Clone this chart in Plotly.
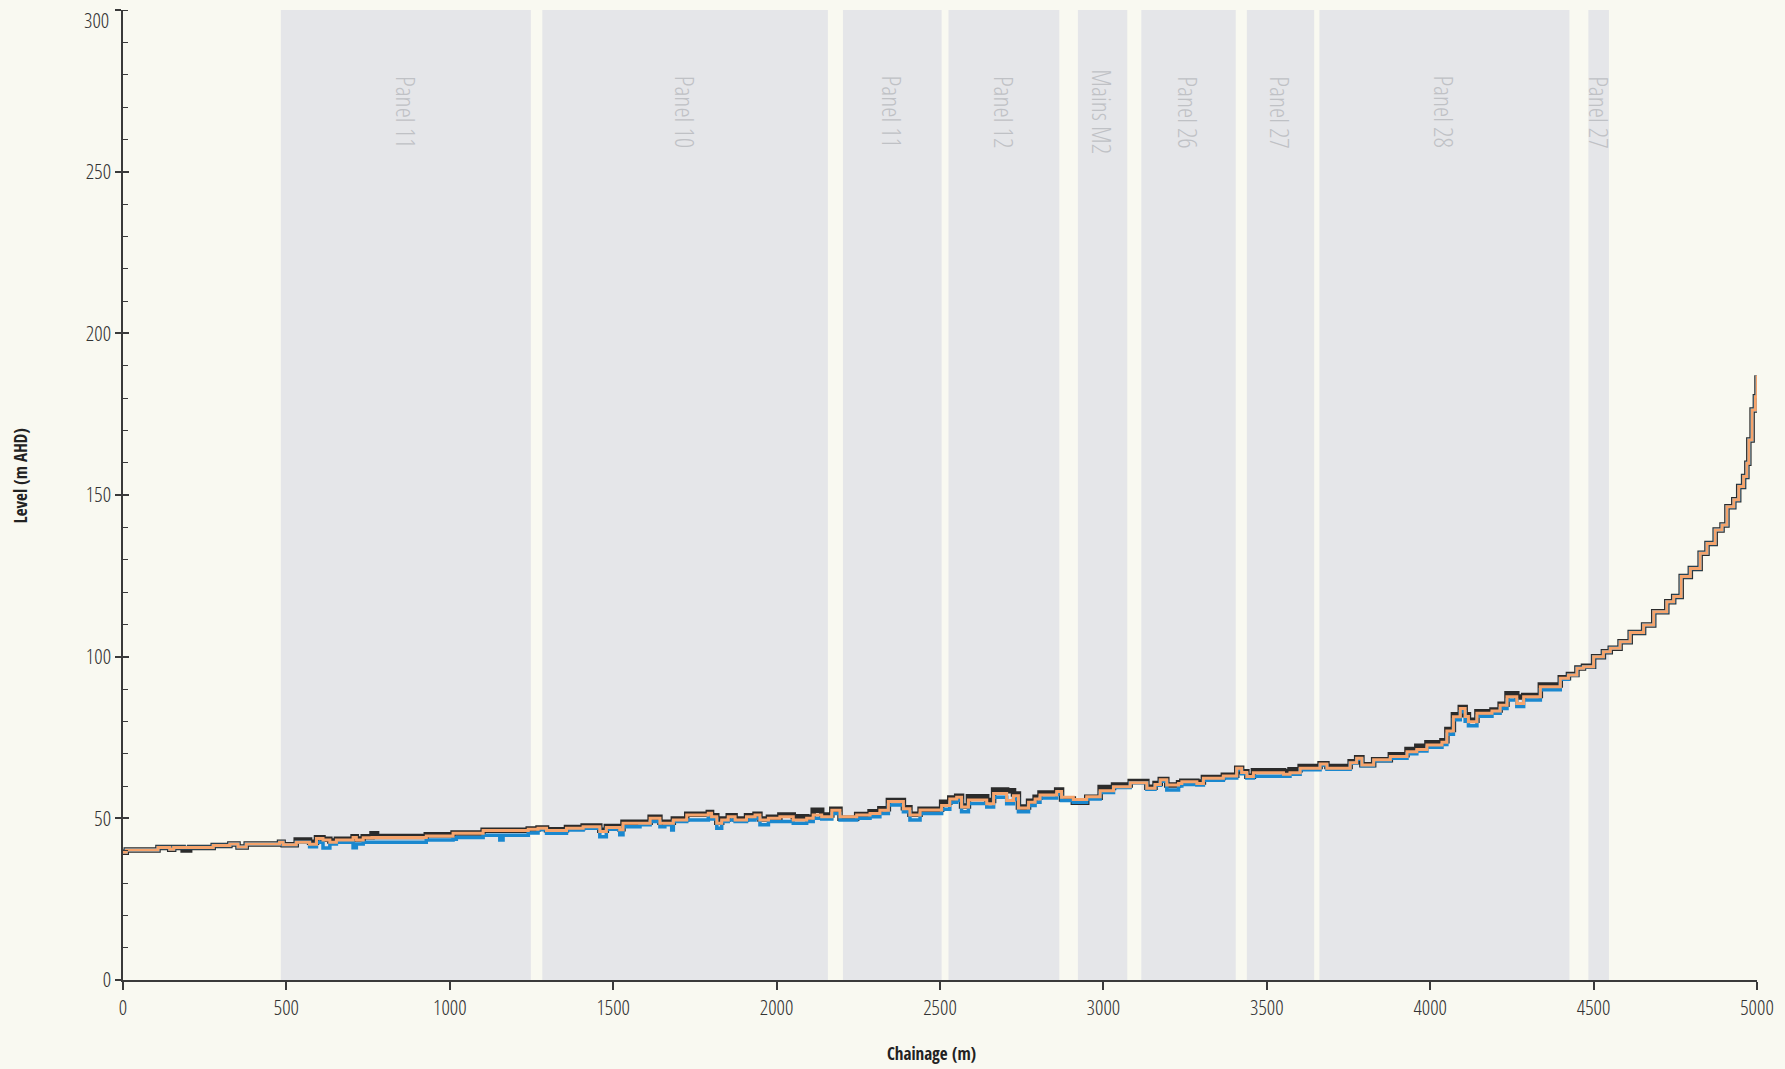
import plotly.graph_objects as go

# ---- panel zones (chainage, m) ----
panel_names = ["Panel 11", "Panel 10", "Panel 11", "Panel 12", "Mains M2",
               "Panel 26", "Panel 27", "Panel 28", "Panel 27"]
panel_start = [483, 1283, 2203, 2526, 2922, 3116, 3439, 3661, 4484]
panel_end = [1248, 2157, 2505, 2865, 3073, 3405, 3645, 4426, 4547]

# ---- axis ticks ----
x_ticks = [0, 500, 1000, 1500, 2000, 2500, 3000, 3500, 4000, 4500, 5000]
y_ticks = [0, 50, 100, 150, 200, 250, 300]

# ---- profile data ----
chainage = [0, 10, 107, 143, 155, 184, 204, 276, 327, 352, 377, 479, 490, 530, 571, 592,
            612, 633, 653, 704, 714, 735, 762, 776, 928, 1010, 1020, 1102, 1153, 1163,
            1240, 1270, 1296, 1357, 1408, 1459, 1479, 1520, 1530, 1582, 1613, 1643, 1658,
            1679, 1684, 1725, 1791, 1801, 1817, 1832, 1852, 1873, 1908, 1934, 1949, 1975,
            2010, 2051, 2092, 2112, 2138, 2169, 2194, 2245, 2286, 2316, 2342, 2388, 2408,
            2439, 2505, 2530, 2551, 2566, 2587, 2643, 2664, 2704, 2725, 2740, 2771, 2791,
            2806, 2857, 2872, 2908, 2949, 2990, 3031, 3082, 3133, 3158, 3174, 3194, 3230,
            3240, 3286, 3306, 3367, 3408, 3423, 3439, 3459, 3551, 3571, 3602, 3663, 3684,
            3755, 3775, 3791, 3827, 3878, 3929, 3959, 3990, 4036, 4051, 4071, 4092, 4107,
            4117, 4143, 4189, 4214, 4235, 4265, 4286, 4337, 4398, 4423, 4449, 4469, 4500,
            4530, 4551, 4581, 4612, 4653, 4684, 4724, 4745, 4768, 4796, 4826, 4847, 4872,
            4893, 4908, 4929, 4944, 4959, 4969, 4975, 4985, 4995, 5000]

surface = [39.5, 40.2, 41.0, 40.4, 41.0, 40.2, 41.0, 41.6, 42.1, 41.1, 42.1, 42.6, 41.8, 43.3,
           42.6, 44.0, 43.5, 43.0, 43.5, 44.3, 43.6, 44.3, 45.2, 44.4, 44.9, 45.5, 45.5, 46.3,
           46.3, 46.3, 46.7, 47.0, 46.5, 47.2, 47.6, 46.3, 47.5, 46.8, 48.8, 48.8, 50.3, 48.8,
           48.8, 48.8, 49.8, 51.3, 51.8, 50.8, 48.8, 49.8, 50.8, 49.8, 50.8, 51.3, 49.8, 50.3,
           51.0, 50.5, 50.3, 52.5, 51.0, 52.8, 50.0, 51.2, 52.0, 53.0, 55.5, 53.3, 51.3, 52.8,
           55.0, 56.3, 56.8, 53.8, 56.7, 55.5, 58.8, 58.5, 57.5, 53.5, 55.3, 56.5, 57.8, 58.8,
           56.0, 55.0, 56.5, 59.5, 60.3, 61.4, 59.6, 60.8, 62.0, 60.3, 61.0, 61.5, 61.2, 62.6,
           63.3, 65.5, 64.4, 63.0, 64.7, 64.5, 65.0, 66.0, 66.9, 66.0, 67.5, 68.7, 66.6, 68.1,
           69.7, 71.3, 72.3, 73.4, 74.0, 77.5, 82.0, 84.3, 82.0, 80.3, 83.0, 83.5, 85.3, 88.5,
           87.5, 88.0, 91.2, 93.5, 94.5, 96.5, 97.0, 100.0, 101.5, 102.6, 104.6, 107.5, 109.8,
           113.9, 117.0, 118.6, 124.8, 127.3, 132.0, 135.0, 139.2, 140.7, 146.4, 148.5, 152.6,
           155.7, 159.8, 167.0, 176.3, 180.4, 187.0]

predicted = [39.5, 40.2, 41.0, 40.4, 41.0, 41.0, 41.0, 41.6, 42.1, 41.1, 42.1, 42.6, 41.8, 42.6,
             42.0, 43.8, 43.3, 42.6, 43.3, 44.1, 43.3, 44.0, 44.1, 44.1, 44.5, 45.4, 45.4, 46.2,
             46.2, 46.2, 46.6, 46.9, 46.2, 46.9, 47.4, 45.9, 47.2, 46.5, 48.5, 48.5, 50.0, 48.5,
             48.5, 48.5, 49.5, 51.0, 51.6, 50.5, 48.5, 49.5, 50.5, 49.5, 50.5, 51.0, 49.5, 50.0,
             50.5, 49.5, 50.0, 51.0, 50.5, 52.5, 50.5, 51.0, 51.5, 52.5, 55.2, 53.0, 51.0, 52.6,
             54.0, 56.0, 56.5, 53.5, 55.7, 54.5, 57.7, 55.5, 57.0, 53.2, 55.0, 56.0, 57.2, 58.3,
             56.5, 55.8, 56.7, 58.5, 59.8, 61.0, 59.3, 60.5, 61.9, 60.3, 60.8, 61.3, 60.8, 62.4,
             63.1, 65.5, 64.2, 62.9, 64.1, 63.6, 64.1, 65.5, 66.8, 65.5, 67.2, 68.6, 66.5, 68.1,
             69.1, 70.6, 71.3, 72.7, 73.5, 77.0, 81.4, 84.0, 81.5, 79.9, 82.5, 83.2, 85.0, 87.6,
             85.5, 87.6, 90.7, 93.3, 94.3, 96.4, 96.9, 100.0, 101.5, 102.6, 104.6, 107.5, 109.8,
             113.9, 117.0, 118.6, 124.8, 127.3, 132.0, 135.0, 139.2, 140.7, 146.4, 148.5, 152.6,
             155.7, 159.8, 167.0, 176.3, 180.4, 187.0]

measured = [39.5, 40.2, 41.0, 40.4, 41.0, 41.0, 41.0, 41.6, 42.1, 41.1, 42.1, 42.6, 41.8, 42.6,
            41.2, 42.6, 40.8, 42.1, 42.6, 40.9, 42.1, 42.6, 42.6, 42.6, 43.3, 43.5, 44.1, 44.8,
            43.3, 44.8, 45.5, 46.5, 45.4, 46.4, 46.9, 44.3, 46.6, 44.9, 47.4, 48.0, 49.0, 47.4,
            48.0, 46.4, 49.0, 49.5, 50.5, 49.8, 46.9, 49.0, 49.5, 49.0, 49.5, 50.0, 48.0, 49.0,
            49.0, 48.5, 49.0, 50.0, 49.8, 51.5, 49.5, 50.0, 50.5, 51.5, 54.1, 52.0, 49.5, 51.5,
            52.8, 55.0, 55.5, 52.0, 54.6, 53.5, 56.5, 54.5, 56.0, 52.0, 54.0, 55.0, 56.3, 57.5,
            55.5, 55.0, 56.0, 58.0, 59.5, 61.0, 59.0, 60.2, 61.5, 58.8, 60.0, 60.5, 60.3, 61.8,
            62.5, 65.0, 63.8, 62.5, 63.0, 63.0, 63.6, 65.0, 66.5, 65.2, 67.0, 68.3, 66.3, 67.8,
            68.6, 70.0, 70.8, 72.0, 72.8, 76.0, 80.5, 83.0, 80.0, 78.6, 81.6, 82.5, 84.0, 86.6,
            84.6, 86.6, 89.8, 93.0, 94.3, 96.4, 96.9, 100.0, 101.5, 102.6, 104.6, 107.5, 109.8,
            113.9, 117.0, 118.6, 124.8, 127.3, 132.0, 135.0, 139.2, 140.7, 146.4, 148.5, 152.6,
            155.7, 159.8, 167.0, 176.3, 180.4, 187.0]

BG = "#f9f9f1"
PANEL = "#e5e6e9"
AX = "#3a3a3a"
FONT_L = "Open Sans Condensed Light, Roboto Condensed, DejaVu Sans Condensed, sans-serif"
FONT_B = "Open Sans Condensed, Roboto Condensed, DejaVu Sans Condensed, sans-serif"

fig = go.Figure()

for name, s, e in zip(panel_names, panel_start, panel_end):
    fig.add_vrect(x0=s, x1=e, fillcolor=PANEL, opacity=1, line_width=0, layer="below")
    fig.add_annotation(x=(s + e) / 2, y=0.895, xref="x", yref="paper", text=name,
                       textangle=90, showarrow=False, xanchor="center", yanchor="middle",
                       font=dict(family=FONT_L, size=26, color="#bfc1c5"))

fig.add_trace(go.Scatter(x=chainage, y=surface, mode="lines", line_shape="hv",
                         line=dict(color="#2b2b2b", width=5.5), name="Surface"))
fig.add_trace(go.Scatter(x=chainage, y=measured, mode="lines", line_shape="hv",
                         line=dict(color="#1a88cf", width=3.5), name="Measured"))
fig.add_trace(go.Scatter(x=chainage, y=predicted, mode="lines", line_shape="hv",
                         line=dict(color="#f6a46c", width=3), name="Predicted"))

# y tick labels: top label nudged down inside the chart like the reference
y_ticktext = [str(v) if v != y_ticks[-1] else "" for v in y_ticks]
fig.add_annotation(x=0, y=y_ticks[-1], xref="paper", yref="y", text=str(y_ticks[-1]),
                   showarrow=False, xanchor="right", yanchor="middle", xshift=-12, yshift=-10,
                   font=dict(family=FONT_L, size=21, color="#333333"))

# axis titles
fig.add_annotation(x=-0.0627, y=0.52, xref="paper", yref="paper", text="<b>Level (m AHD)</b>",
                   textangle=-90, showarrow=False, xanchor="center", yanchor="middle",
                   font=dict(family=FONT_B, size=17, color="#222222"))
fig.add_annotation(x=0.4945, y=-0.0753, xref="paper", yref="paper", text="<b>Chainage (m)</b>",
                   showarrow=False, xanchor="center", yanchor="middle",
                   font=dict(family=FONT_B, size=17, color="#222222"))

fig.update_layout(
    width=1785, height=1069,
    margin=dict(l=123, r=28, t=10, b=89),
    paper_bgcolor=BG, plot_bgcolor=BG,
    showlegend=False,
    font=dict(family=FONT_L, size=21, color="#333333"),
    xaxis=dict(range=[0, 5000], tickvals=x_ticks, showgrid=False, zeroline=False,
               automargin=False,
               showline=True, linecolor=AX, linewidth=1.5,
               ticks="outside", ticklen=8, tickcolor=AX, tickwidth=1.5,
               tickfont=dict(family=FONT_L, size=21, color="#333333"),
               ticklabeloverflow="allow"),
    yaxis=dict(range=[0, 300], tickvals=y_ticks, ticktext=y_ticktext,
               showgrid=False, zeroline=False, automargin=False,
               showline=True, linecolor=AX, linewidth=1.5,
               ticks="outside", ticklen=6, tickcolor=AX, tickwidth=1.5,
               tickfont=dict(family=FONT_L, size=21, color="#333333"),
               ticklabeloverflow="allow",
               minor=dict(dtick=10, ticks="inside", ticklen=5, tickcolor=AX, tickwidth=1)),
    yaxis2=dict(range=[0, 300], tickvals=y_ticks, overlaying="y", side="left",
                automargin=False,
                showgrid=False, zeroline=False, showline=False, showticklabels=False,
                ticks="inside", ticklen=6, tickcolor=AX, tickwidth=1.5),
)
fig.add_trace(go.Scatter(x=[None], y=[None], yaxis="y2", showlegend=False, hoverinfo="skip"))

fig.write_html(
    "out.html",
    config={"displayModeBar": False},
    post_script=("document.body.style.margin='0';"
                 "document.body.style.overflow='hidden';"
                 "document.body.style.background='#f9f9f1';"),
)
